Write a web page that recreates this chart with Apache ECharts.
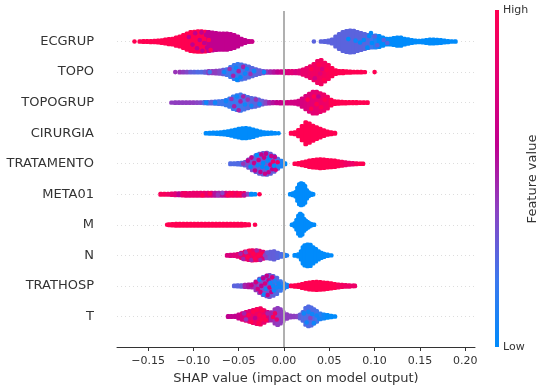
<!DOCTYPE html>
<html><head><meta charset="utf-8">
<style>html,body{margin:0;padding:0;background:#fff}#c{width:548px;height:388px}</style>
<script src="https://cdn.jsdelivr.net/npm/echarts@6/dist/echarts.min.js"></script>
</head><body><div id="c"></div>
<script>
// Feature names, top row first
const features = ['ECGRUP','TOPO','TOPOGRUP','CIRURGIA','TRATAMENTO','META01','M','N','TRATHOSP','T'];
const xTicks = [-0.15,-0.10,-0.05,0,0.05,0.10,0.15,0.20];

// Swarm profile: [SHAP value, swarm half-height (row units), feature value 0..1]
const ecgrup = [[-.159,.07,1],[-.155,.08,1],[-.151,.08,1],[-.147,.085,1],[-.143,.09,1],[-.139,.10,1],[-.135,.11,1],[-.131,.13,1],[-.127,.15,1],[-.123,.16,1],[-.119,.20,1],[-.115,.23,1],[-.111,.28,1],[-.107,.33,1],[-.103,.375,1],[-.099,.39,1],[-.095,.40,1],[-.091,.40,1],[-.087,.39,1],[-.083,.375,.6],[-.079,.36,.6],[-.075,.345,.6],[-.071,.33,.6],[-.067,.33,.6],[-.063,.33,.6],[-.059,.31,.6],[-.055,.28,.6],[-.051,.23,.6],[-.047,.16,.6],[-.043,.115,.6],[-.039,.08,.6],[-.036,.07,.65],
 [.041,.07,.28],[.045,.08,.28],[.049,.10,.28],[.053,.13,.28],[.057,.23,.28],[.061,.31,.28],[.065,.375,.28],[.069,.41,.28],[.073,.425,.28],[.077,.415,.28],[.081,.375,.28],[.085,.345,.28],[.089,.31,.27],[.093,.28,.26],[.097,.26,.2],[.101,.26,.1],[.105,.245,0],[.109,.20,0],[.113,.16,0],[.117,.16,0],[.121,.18,0],[.125,.20,0],[.129,.20,0],[.133,.16,0],[.137,.14,0],[.141,.115,0],[.145,.10,0],[.149,.09,0],[.153,.10,0],[.157,.115,0],[.161,.13,0],[.165,.13,0],[.169,.125,0],[.173,.115,0],[.177,.10,0],[.181,.085,0],[.185,.075,0],[.189,.07,0]];
const topo = [[-.115,.075,.45],[-.111,.075,.42],[-.107,.08,.38],[-.103,.08,.3],[-.099,.08,.28],[-.095,.08,.25],[-.091,.08,.25],[-.087,.085,.3],[-.083,.10,.42],[-.079,.105,.42],[-.075,.11,.42],[-.071,.12,.38],[-.067,.14,.3],[-.063,.16,.22],[-.059,.23,.2],[-.055,.295,.2],[-.051,.33,.18],[-.047,.31,.22],[-.043,.28,.25],[-.039,.245,.25],[-.035,.20,.27],[-.031,.16,.28],[-.027,.125,.3],[-.023,.10,.32],[-.019,.09,.45],[-.015,.09,.5],[-.011,.09,.55],[-.007,.09,.6],[-.003,.09,.65],[.001,.10,.7],[.005,.10,.75],[.009,.10,.8],[.013,.105,.75],[.017,.115,.78],[.021,.15,.85],[.025,.20,.85],[.029,.26,.88],[.033,.33,.9],[.037,.425,.9],[.041,.46,.92],[.045,.375,.92],[.049,.295,.95],[.053,.20,1],[.057,.125,1],[.061,.105,1],[.065,.10,1],[.069,.09,1],[.073,.085,1],[.077,.08,1],[.081,.08,1],[.085,.075,1],[.089,.07,1]];
const topogrup = [[-.124,.07,.42],[-.120,.075,.42],[-.116,.075,.42],[-.112,.075,.42],[-.108,.075,.42],[-.104,.08,.42],[-.100,.08,.42],[-.096,.08,.40],[-.092,.08,.38],[-.088,.085,.28],[-.084,.09,.25],[-.080,.095,.3],[-.076,.105,.25],[-.072,.11,.22],[-.068,.12,.2],[-.064,.15,.18],[-.060,.20,.18],[-.056,.27,.18],[-.052,.31,.2],[-.048,.33,.2],[-.044,.29,.22],[-.040,.25,.25],[-.036,.22,.27],[-.032,.20,.27],[-.028,.17,.28],[-.024,.13,.3],[-.020,.10,.4],[-.016,.09,.5],[-.012,.085,.55],[-.008,.085,.6],[-.004,.09,.62],[0,.09,.65],[.004,.09,.7],[.008,.095,.7],[.012,.10,.7],[.016,.13,.7],[.020,.20,.72],[.024,.28,.75],[.028,.36,.78],[.032,.42,.8],[.036,.425,.82],[.040,.37,.85],[.044,.33,.88],[.048,.26,.9],[.052,.16,1],[.056,.11,1],[.060,.10,1],[.064,.095,1],[.068,.09,1],[.072,.085,1],[.076,.085,1],[.080,.085,1],[.084,.08,1],[.088,.08,1],[.092,.075,1]];
const cirurgia = [[-.086,.075,0],[-.082,.08,0],[-.078,.085,0],[-.074,.09,0],[-.070,.10,0],[-.066,.11,0],[-.062,.125,0],[-.058,.15,0],[-.054,.18,0],[-.050,.21,0],[-.046,.23,0],[-.042,.235,0],[-.038,.215,0],[-.034,.19,0],[-.030,.15,0],[-.026,.12,0],[-.022,.10,0],[-.018,.09,0],[-.014,.085,0],[-.010,.075,0],
 [.008,.08,1],[.012,.10,1],[.016,.17,1],[.020,.30,1],[.024,.425,1],[.028,.38,1],[.032,.31,1],[.036,.26,1],[.040,.21,1],[.044,.16,1],[.048,.12,1],[.052,.10,1],[.056,.08,1]];
const tratamento = [[-.059,.08,.25],[-.055,.085,.25],[-.051,.09,.25],[-.047,.095,.25],[-.043,.12,.3],[-.039,.20,.35],[-.035,.28,.35],[-.031,.34,.3],[-.027,.39,.3],[-.023,.415,.3],[-.019,.425,.3],[-.015,.39,.3],[-.011,.33,.3],[-.007,.23,.25],[-.003,.16,.1],[.001,.08,0],
 [.012,.07,1],[.016,.09,1],[.020,.115,1],[.024,.14,1],[.028,.17,1],[.032,.19,1],[.036,.20,1],[.040,.21,1],[.044,.205,1],[.048,.19,1],[.052,.18,1],[.056,.17,1],[.060,.15,1],[.064,.13,.95],[.068,.115,.9],[.072,.10,.88],[.076,.09,.88],[.080,.085,.95],[.084,.075,1],[.087,.07,1]];
const meta01 = [[-.136,.08,.95],[-.132,.08,.95],[-.128,.085,.9],[-.124,.09,.85],[-.120,.095,.8],[-.116,.10,.6],[-.112,.105,.85],[-.108,.11,.85],[-.104,.11,.85],[-.100,.115,.85],[-.096,.115,.85],[-.092,.115,.85],[-.088,.115,.85],[-.084,.115,.8],[-.080,.115,.75],[-.076,.115,.55],[-.072,.115,.5],[-.068,.115,.55],[-.064,.115,.7],[-.060,.115,.85],[-.056,.115,.9],[-.052,.115,.9],[-.048,.11,.85],[-.044,.105,.85],[-.040,.085,.4],[-.036,.08,0],[-.032,.075,0],
 [.007,.07,0],[.010,.10,0],[.013,.14,0],[.015,.28,0],[.017,.39,0],[.019,.425,0],[.021,.40,0],[.023,.34,0],[.025,.20,0],[.027,.13,0],[.030,.09,0],[.032,.07,0]];
const m = [[-.1266,.08,1],[-.123,.09,1],[-.119,.10,1],[-.115,.10,1],[-.111,.10,1],[-.107,.10,1],[-.103,.10,1],[-.099,.10,1],[-.095,.10,1],[-.091,.10,1],[-.087,.10,1],[-.083,.10,1],[-.079,.10,1],[-.075,.10,1],[-.071,.10,1],[-.067,.10,1],[-.063,.10,1],[-.059,.10,1],[-.055,.10,1],[-.051,.10,1],[-.047,.10,1],[-.043,.09,1],[-.039,.08,1],
 [.009,.075,0],[.012,.12,0],[.014,.22,0],[.016,.36,0],[.018,.425,0],[.020,.38,0],[.022,.26,0],[.024,.20,0],[.026,.16,0],[.028,.12,0],[.030,.09,0],[.033,.07,0]];
const n = [[-.0626,.08,.75],[-.059,.085,.75],[-.055,.09,.78],[-.051,.11,.8],[-.047,.15,.85],[-.043,.19,.85],[-.039,.22,.85],[-.035,.23,.88],[-.031,.225,.88],[-.027,.22,.88],[-.023,.18,.8],[-.019,.16,.35],[-.015,.18,.3],[-.011,.20,.3],[-.007,.15,.28],[-.003,.11,.25],[.001,.085,.15],[.003,.07,.1],
 [.012,.075,0],[.016,.10,0],[.019,.20,0],[.021,.33,0],[.023,.40,0],[.026,.425,0],[.029,.41,0],[.032,.33,0],[.035,.27,0],[.038,.20,0],[.041,.15,0],[.044,.115,0],[.048,.09,0],[.052,.07,0]];
const trathosp = [[-.0548,.08,.28],[-.051,.085,.28],[-.047,.09,.3],[-.043,.10,.5],[-.039,.11,.55],[-.035,.12,.5],[-.031,.21,.45],[-.027,.30,.4],[-.023,.36,.35],[-.019,.40,.35],[-.016,.425,.35],[-.012,.39,.3],[-.008,.33,.25],[-.004,.22,.2],[0,.15,.15],[.003,.10,.1],[.006,.07,.05],
 [.008,.075,1],[.012,.09,1],[.016,.10,1],[.020,.13,1],[.024,.16,1],[.028,.18,1],[.032,.195,1],[.036,.20,1],[.040,.195,1],[.044,.18,1],[.048,.17,1],[.052,.15,1],[.056,.13,1],[.060,.115,.95],[.064,.10,.92],[.068,.095,.9],[.072,.09,.88],[.076,.08,.88],[.078,.075,.88]];
const t = [[-.0615,.08,.6],[-.058,.08,.6],[-.054,.085,.6],[-.050,.13,.65],[-.046,.17,.75],[-.042,.21,.8],[-.038,.24,.8],[-.034,.28,.85],[-.030,.31,.88],[-.026,.33,.9],[-.022,.27,.85],[-.018,.21,.7],[-.014,.20,.5],[-.010,.30,.45],[-.007,.345,.42],[-.004,.30,.42],[-.001,.22,.42],[.003,.14,.42],[.007,.10,.42],[.011,.09,.42],[.015,.09,.4],[.018,.13,.3],[.021,.21,.25],[.024,.34,.25],[.027,.39,.25],[.030,.36,.25],[.033,.30,.25],[.036,.24,.22],[.040,.16,.15],[.044,.13,.05],[.048,.11,0],[.052,.09,0],[.056,.07,0]];

// Single visible dots standing out: [SHAP value, offset from row, feature value]
const ecgrupDots = [[-.165,0,1],[-.035,0,.65],[.033,0,.28],[-.105,.15,.6],[-.101,-.1,.6],[-.098,.27,.6],[-.096,-.22,.6],[-.093,.05,.6],[-.091,.3,.6],[-.090,-.3,.6],[-.088,-.05,.6],[-.086,.22,.6],[-.085,-.2,.6],[-.083,.05,1],[-.081,-.28,1],[-.084,.3,.6],[.071,.08,0],[.079,.03,.05],[.084,-.03,0],[.088,.05,0],[.092,-.2,0],[.094,.18,0],[.097,-.05,0],[.100,.17,.28],[.096,.28,0],[.103,-.12,.28],[.110,.05,.28],[.114,-.05,.28]];
const topoDots = [[-.120,0,.45],[.100,0,1],[-.082,0,.2],[-.066,0,.05],[-.060,.1,.45],[-.056,-.12,.5],[-.053,.14,.05],[-.052,-.25,0],[-.050,.03,.5],[-.048,-.17,0],[-.045,.17,.5],[-.043,-.05,.05],[-.041,.1,.05],[-.037,-.06,.45],[-.033,.03,.05],[-.022,0,.05],[.030,.1,1],[.034,-.2,.7],[.038,.25,1],[.040,-.05,.8],[.042,.1,.75],[.044,-.25,1],[.047,.08,1]];
const topogrupDots = [[-.086,0,.05],[-.076,0,.05],[-.064,.05,.05],[-.058,.12,.45],[-.055,-.12,.5],[-.052,.2,.05],[-.050,-.25,.5],[-.048,.04,.5],[-.045,.2,.5],[-.043,-.06,.05],[-.040,.1,.45],[-.036,-.1,.05],[-.031,.1,.45],[-.027,-.05,.05],[.026,.1,1],[.030,-.2,1],[.033,.2,1],[.036,-.05,1],[.038,.2,.6],[.041,-.15,1],[.045,.1,1]];
const cirurgiaDots = [[-.006,0,0]];
const tratamentoDots = [[-.045,0,.45],[-.040,.1,.6],[-.037,-.1,0],[-.036,.2,.6],[-.033,.02,.65],[-.032,-.22,.6],[-.030,.28,0],[-.029,-.05,.05],[-.028,.12,.7],[-.026,-.27,.6],[-.025,.3,.6],[-.024,-.1,0],[-.023,.02,0],[-.022,.2,.65],[-.021,-.33,.65],[-.020,.33,.6],[-.019,-.14,0],[-.018,.1,.05],[-.017,-.28,.6],[-.016,.2,0],[-.015,-.03,.7],[-.014,.25,.65],[-.013,-.18,.6],[-.012,.07,.85],[-.011,-.07,0],[-.010,.22,.6],[-.009,-.2,.7],[-.007,.05,.9],[-.006,-.1,.1]];
const meta01Dots = [[-.027,0,1],[-.110,.03,.9],[-.090,-.03,1],[-.082,.02,1],[-.073,-.02,.45],[-.068,.04,.4],[-.062,-.03,1],[-.058,.03,1],[-.050,0,1],[-.044,-.03,.55]];
const mDots = [[-.129,0,1],[-.032,0,1]];
const nDots = [[-.048,.05,.5],[-.045,-.12,.5],[-.042,.1,.45],[-.040,-.05,1],[-.038,.15,1],[-.036,-.15,.5],[-.034,.05,1],[-.032,-.1,1],[-.030,.16,.5],[-.028,0,1],[-.026,-.15,.5],[-.024,.05,1],[-.021,0,.4],[-.018,.08,.3]];
const trathospDots = [[-.036,.02,.65],[-.031,.12,.7],[-.029,-.1,.7],[-.027,.2,.05],[-.026,-.2,.7],[-.025,.0,.6],[-.023,.25,.6],[-.022,-.28,.05],[-.021,.08,.7],[-.020,-.1,.05],[-.019,.33,.6],[-.018,-.3,.65],[-.017,.18,.65],[-.016,-.05,.7],[-.015,.1,.05],[-.014,-.2,.6],[-.013,.28,.7],[-.012,.0,.05],[-.011,-.15,.05],[-.010,.15,.1],[-.008,-.05,.05],[-.006,.08,.05],[-.004,-.03,.05]];
const tDots = [[-.044,.1,.5],[-.042,-.1,.45],[-.039,.05,1],[-.036,-.18,1],[-.034,.15,1],[-.032,-.05,.6],[-.030,.22,1],[-.028,-.22,1],[-.027,.05,1],[-.025,-.1,1],[-.024,.2,1],[-.022,0,1],[-.020,-.12,1],[-.018,.1,.5],[-.012,-.02,1],[-.010,.1,.9],[-.008,-.1,.8],[.022,.1,.05],[.025,-.2,.05],[.027,.15,.05],[.029,-.05,.4],[.031,.08,.05],[.033,-.22,.05],[.036,.03,.05],[.039,-.08,.05]];

const profiles = [ecgrup,topo,topogrup,cirurgia,tratamento,meta01,m,n,trathosp,t];
const dotLists = [ecgrupDots,topoDots,topogrupDots,cirurgiaDots,tratamentoDots,meta01Dots,mDots,nDots,trathospDots,tDots];
const rowOf = i => features.length - 1 - i;

const bodyData = [], dotData = [];
profiles.forEach((p,i)=>p.forEach(e=>bodyData.push([e[0],rowOf(i),e[2],e[1]])));
dotLists.forEach((d,i)=>d.forEach(e=>dotData.push([e[0],rowOf(i)+e[1],e[2]])));

const chart = echarts.init(document.getElementById('c'),null,{renderer:'canvas'});
const font = '"DejaVu Sans"';
const ramp = ['#008bfb','#3c78ee','#8a44c4','#c0008f','#e30075','#ff0051'];
chart.setOption({
  animation:false,
  backgroundColor:'#fff',
  grid:{left:117,width:358,top:11,height:336,outerBoundsMode:'none'},
  xAxis:{type:'value',min:-0.1843,max:0.2108,
    name:'SHAP value (impact on model output)',nameLocation:'middle',nameGap:23,
    nameTextStyle:{fontFamily:font,fontSize:13,color:'#333'},
    axisLine:{show:true,onZero:false,lineStyle:{color:'#333',width:1}},
    axisTick:{show:true,length:4,customValues:xTicks,lineStyle:{color:'#333'}},
    axisLabel:{show:true,customValues:xTicks,margin:9,fontFamily:font,fontSize:11,color:'#333',
      formatter:v=>(v<0?'\u2212':'')+Math.abs(v).toFixed(2)},
    splitLine:{show:false}},
  yAxis:{type:'value',min:-1,max:10,interval:1,
    axisLine:{show:false},axisTick:{show:false},
    axisLabel:{show:true,margin:23,fontFamily:font,fontSize:13,color:'#333',showMinLabel:false,showMaxLabel:false,padding:[2,0,0,0],
      formatter:v=>(v>=0&&v<features.length)?features[rowOf(v)]:''},
    splitLine:{show:true,showMinLine:false,showMaxLine:false,lineStyle:{type:[1,3],color:'#ddd',width:1}}},
  visualMap:{show:false,type:'continuous',min:0,max:1,dimension:2,seriesIndex:[0,1],inRange:{color:ramp}},
  series:[
    {type:'custom',coordinateSystem:'cartesian2d',z:3,clip:false,silent:true,
     encode:{x:0,y:1},data:bodyData,
     renderItem:(params,api)=>{
       const c=api.coord([api.value(0),api.value(1)]);
       const top=api.coord([api.value(0),api.value(1)+api.value(3)]);
       const h=Math.max(c[1]-top[1],2.2), w=2.4;
       return {type:'rect',shape:{x:c[0]-w,y:c[1]-h,width:2*w,height:2*h,r:1.5},style:{fill:api.visual('color')}};
     }},
    {type:'scatter',z:4,symbolSize:4.6,data:dotData,silent:true,clip:false,encode:{x:0,y:1},itemStyle:{opacity:1}},
    {type:'line',z:5,silent:true,symbol:'none',data:[[0,-1],[0,10]],lineStyle:{color:'#b0b0b0',width:2}}
  ],
  graphic:[
    {type:'rect',left:495,top:10,shape:{width:4,height:337},z:10,
     style:{fill:new echarts.graphic.LinearGradient(0,1,0,0,ramp.map((c,i)=>({offset:i/(ramp.length-1),color:c})))}},
    {type:'text',left:503,top:5,z:10,style:{text:'High',font:'11px "DejaVu Sans"',fill:'#333'}},
    {type:'text',left:503,top:342,z:10,style:{text:'Low',font:'11px "DejaVu Sans"',fill:'#333'}},
    {type:'text',x:533,y:179,rotation:Math.PI/2,z:10,style:{text:'Feature value',font:'13px "DejaVu Sans"',fill:'#333',align:'center',verticalAlign:'middle'}}
  ]
});
</script></body></html>
